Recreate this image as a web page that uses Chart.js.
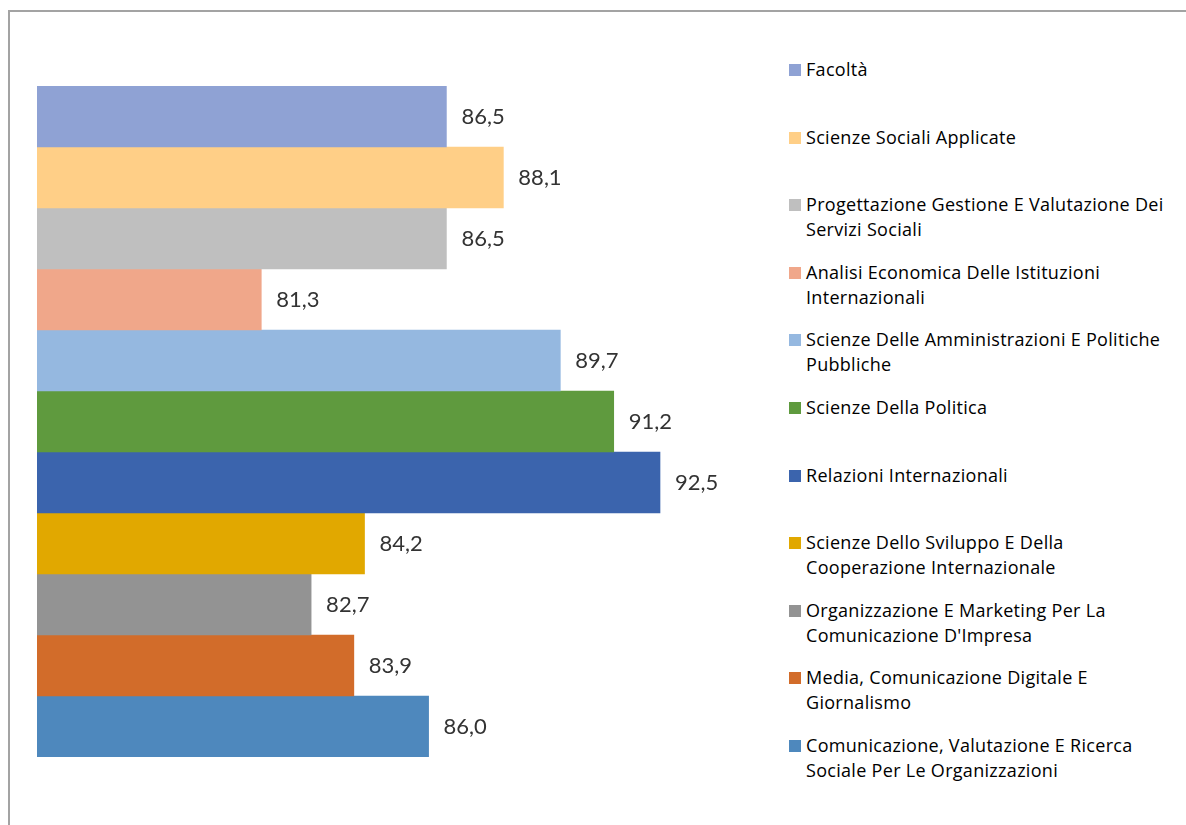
<!DOCTYPE html>
<html>
<head>
<meta charset="utf-8">
<script src="https://cdn.jsdelivr.net/npm/chart.js@4/dist/chart.umd.min.js"></script>
<style>
  body { margin: 0; background: #fff; width: 1186px; height: 825px; overflow: hidden; position: relative; }
  #frame { position: absolute; left: 8px; top: 10px; width: 1200px; height: 900px;
           border-top: 2px solid #a3a3a3; border-left: 2px solid #a3a3a3; }
  #wrap { position: absolute; left: 0; top: 0; width: 770px; height: 825px; }
  #legend { position: absolute; left: 789px; top: 57px; font-family: "Open Sans", Lato, sans-serif;
            font-size: 18px; color: #000; }
  .item { height: 67.6px; display: flex; align-items: flex-start; }
  .box { width: 12px; height: 12px; margin-top: 7px; margin-right: 5px; flex: none; }
  .txt { line-height: 25px; white-space: nowrap; letter-spacing: 0.3px; }
</style>
</head>
<body>
<div id="frame"></div>
<div id="wrap"><canvas id="chart"></canvas></div>
<div id="legend"></div>
<script>
// series names (one line per array entry, as wrapped in the legend)
const seriesNames = [
  ['Facoltà'],
  ['Scienze Sociali Applicate'],
  ['Progettazione Gestione E Valutazione Dei', 'Servizi Sociali'],
  ['Analisi Economica Delle Istituzioni', 'Internazionali'],
  ['Scienze Delle Amministrazioni E Politiche', 'Pubbliche'],
  ['Scienze Della Politica'],
  ['Relazioni Internazionali'],
  ['Scienze Dello Sviluppo E Della', 'Cooperazione Internazionale'],
  ['Organizzazione E Marketing Per La', 'Comunicazione D\'Impresa'],
  ['Media, Comunicazione Digitale E', 'Giornalismo'],
  ['Comunicazione, Valutazione E Ricerca', 'Sociale Per Le Organizzazioni']
];
const values = [86.5, 88.1, 86.5, 81.3, 89.7, 91.2, 92.5, 84.2, 82.7, 83.9, 86.0];
const colors = ['#8FA2D4', '#FFCF87', '#BFBFBF', '#F0A78A', '#95B8E0', '#5F9A3E',
                '#3B64AD', '#E1A800', '#939393', '#D26C2A', '#4E88BD'];

// value labels at the end of each bar
const valueLabels = {
  id: 'valueLabels',
  afterDatasetsDraw(chart) {
    const ctx = chart.ctx;
    ctx.save();
    ctx.font = '22px Lato, "Open Sans", sans-serif';
    ctx.fillStyle = '#333';
    ctx.textBaseline = 'middle';
    chart.data.datasets.forEach((ds, i) => {
      chart.getDatasetMeta(i).data.forEach((bar, j) => {
        ctx.fillText(ds.data[j].toFixed(1).replace('.', ','), bar.x + 15, bar.y);
      });
    });
    ctx.restore();
  }
};

const ctx = document.getElementById('chart').getContext('2d');
const chart = new Chart(ctx, {
  type: 'bar',
  data: {
    labels: [''],
    datasets: values.map((v, i) => ({
      label: seriesNames[i].join(' '),
      data: [v],
      backgroundColor: colors[i],
      borderWidth: 0,
      barPercentage: 1,
      categoryPercentage: 1
    }))
  },
  options: {
    indexAxis: 'y',
    responsive: true,
    maintainAspectRatio: false,
    animation: false,
    layout: { padding: { left: 37, top: 86, bottom: 68, right: 21 } },
    plugins: {
      legend: { display: false },
      tooltip: { enabled: false }
    },
    scales: {
      x: { display: false, min: 75, max: 95 },
      y: { display: false }
    }
  },
  plugins: [valueLabels]
});

// legend on the right
const legend = document.getElementById('legend');
seriesNames.forEach((lines, i) => {
  const item = document.createElement('div');
  item.className = 'item';
  const box = document.createElement('div');
  box.className = 'box';
  box.style.background = colors[i];
  const txt = document.createElement('div');
  txt.className = 'txt';
  txt.innerHTML = lines.join('<br>');
  item.appendChild(box);
  item.appendChild(txt);
  legend.appendChild(item);
});
</script>
</body>
</html>
